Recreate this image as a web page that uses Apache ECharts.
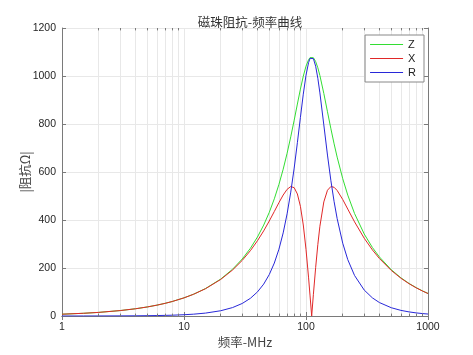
<!DOCTYPE html>
<html>
<head>
<meta charset="utf-8">
<script src="https://cdn.jsdelivr.net/npm/echarts@6/dist/echarts.min.js"></script>
<style>
  html, body { margin: 0; padding: 0; background: #fff; }
  #chart { width: 473px; height: 355px; }
</style>
</head>
<body>
<div id="chart"></div>
<script>
// frequency points (MHz)
var freq = [1, 1.5, 2, 3, 4, 5, 6, 7, 8, 10,
            12, 15, 20, 25, 30, 35, 40, 45, 50, 55,
            60, 65, 70, 75, 80, 85, 90, 95, 100, 105,
            108, 111.3, 115, 120, 125, 130, 140, 150, 160, 170,
            180, 200, 220, 250, 300, 350, 400, 500, 600, 700,
            800, 900, 1000];

var zMag = [7.5, 11.3, 15.1, 22.6, 30.1, 37.7, 45.2, 52.8, 60.4, 75.7,
            91.0, 114.3, 153.9, 194.8, 237.4, 282.0, 329.1, 378.9, 431.9, 488.3,
            548.2, 611.6, 678.0, 746.6, 815.8, 883.1, 945.4, 999.2, 1040.9, 1068.0,
            1076.7, 1080, 1076.2, 1060.2, 1034.4, 1002.0, 927.3, 851.0, 780.2, 717.2,
            662.1, 572.3, 503.6, 427.0, 341.7, 285.6, 245.9, 192.9, 159.1, 135.5,
            118.1, 104.7, 94.0];

var xReact = [7.5, 11.3, 15.0, 22.6, 30.1, 37.6, 45.2, 52.7, 60.3, 75.5,
              90.7, 113.6, 152.3, 191.6, 231.6, 272.2, 313.4, 354.8, 395.8, 435.5,
              472.3, 504.1, 527.7, 539.5, 534.6, 508.4, 457.0, 379.2, 277.6, 158.8,
              83.6, 0, 90.5, 202.3, 297.4, 373.9, 475.4, 524.0, 539.5, 536.2,
              523.1, 485.4, 445.5, 392.2, 324.1, 275.5, 239.4, 189.8, 157.3, 134.4,
              117.4, 104.2, 93.6];

var rRes = [0.05, 0.12, 0.21, 0.47, 0.84, 1.31, 1.89, 2.58, 3.38, 5.30,
            7.67, 12.09, 21.92, 35.13, 52.18, 73.65, 100.3, 132.9, 172.7, 220.7,
            278.2, 346.3, 425.7, 516.2, 616.2, 722.1, 827.6, 924.4, 1003.2, 1056.1,
            1073.5, 1080, 1072.4, 1040.7, 990.7, 929.6, 796.1, 670.6, 563.6, 476.3,
            405.9, 303.3, 234.8, 168.8, 108.1, 75.55, 55.98, 34.46, 23.43, 17.0,
            12.91, 10.14, 8.18];

// minor grid positions on the log axis
var minorFreq = [2, 3, 4, 5, 6, 7, 8, 9,
                 20, 30, 40, 50, 60, 70, 80, 90,
                 200, 300, 400, 500, 600, 700, 800, 900];

var names = ['Z', 'X', 'R'];
var colors = ['#33dd33', '#e02828', '#2828d8'];

var axisGray = '#7a7a7a';
var gridGray = '#e8e8e8';
var labelFont = 'Liberation Sans, Arial, sans-serif';
var cjkFont = 'Noto Sans CJK SC, sans-serif';

function pairs(xs, ys) {
    var out = [];
    for (var i = 0; i < xs.length; i++) out.push([xs[i], ys[i]]);
    return out;
}

var gridLines = [];
var minorTicks = [];
minorFreq.forEach(function (f) {
    gridLines.push([{coord: [f, 0]}, {coord: [f, 1200]}]);
    minorTicks.push([{coord: [f, 0]}, {coord: [f, 10]}]);
    minorTicks.push([{coord: [f, 1190]}, {coord: [f, 1200]}]);
});

function plain(v) { return String(v); }

var curves = [zMag, xReact, rRes].map(function (vals, i) {
    return {
        name: names[i], type: 'line', data: pairs(freq, vals),
        showSymbol: false, symbol: 'none',
        lineStyle: {color: colors[i], width: 1}, itemStyle: {color: colors[i]}
    };
});

var myChart = echarts.init(document.getElementById('chart'), null, {renderer: 'canvas'});
myChart.setOption({
    backgroundColor: '#fff',
    animation: false,
    title: {
        text: '磁珠阻抗-频率曲线',
        left: 245,
        top: 11,
        textAlign: 'center',
        textStyle: {fontFamily: cjkFont, fontSize: 12.5, fontWeight: 'normal', color: '#333'}
    },
    legend: {
        data: names.map(function (n, i) {
            return {name: n, icon: 'rect', itemStyle: {color: colors[i], borderWidth: 0}};
        }),
        orient: 'vertical',
        right: 49,
        top: 35,
        itemWidth: 33,
        itemHeight: 1,
        itemGap: 1,
        padding: [3, 8, 3, 5],
        backgroundColor: '#fff',
        borderColor: '#888',
        borderWidth: 1,
        borderRadius: 0,
        textStyle: {fontFamily: labelFont, fontSize: 11, color: '#222', lineHeight: 13}
    },
    grid: {left: 62, right: 45, top: 28, bottom: 39},
    xAxis: [{
        type: 'log',
        logBase: 10,
        min: 1,
        max: 1000,
        name: '频率-MHz',
        nameLocation: 'middle',
        nameGap: 20,
        nameMoveOverlap: false,
        nameTextStyle: {fontFamily: cjkFont, fontSize: 12.5, color: '#444'},
        axisLine: {lineStyle: {color: axisGray}},
        axisTick: {inside: true, length: 4, lineStyle: {color: axisGray}},
        axisLabel: {fontFamily: labelFont, fontSize: 10.5, color: '#262626', margin: 6, formatter: plain},
        splitLine: {show: true, lineStyle: {color: gridGray}}
    }, {
        type: 'log',
        logBase: 10,
        min: 1,
        max: 1000,
        position: 'top',
        axisLine: {lineStyle: {color: axisGray}},
        axisTick: {inside: true, length: 4, lineStyle: {color: axisGray}},
        axisLabel: {show: false},
        splitLine: {show: false}
    }],
    yAxis: [{
        type: 'value',
        min: 0,
        max: 1200,
        interval: 200,
        name: '|阻抗Ω|',
        nameLocation: 'middle',
        nameGap: 30,
        nameMoveOverlap: false,
        nameTextStyle: {fontFamily: cjkFont, fontSize: 12.5, color: '#444'},
        axisLine: {show: true, lineStyle: {color: axisGray}},
        axisTick: {show: true, inside: true, length: 4, lineStyle: {color: axisGray}},
        axisLabel: {fontFamily: labelFont, fontSize: 10.5, color: '#262626', margin: 6, formatter: plain},
        splitLine: {show: true, lineStyle: {color: gridGray}}
    }, {
        type: 'value',
        min: 0,
        max: 1200,
        interval: 200,
        position: 'right',
        axisLine: {show: true, lineStyle: {color: axisGray}},
        axisTick: {show: true, inside: true, length: 4, lineStyle: {color: axisGray}},
        axisLabel: {show: false},
        splitLine: {show: false}
    }],
    series: [
        {
            name: 'grid',
            type: 'line',
            data: [],
            silent: true,
            markLine: {
                silent: true,
                symbol: 'none',
                z: 1,
                label: {show: false},
                lineStyle: {color: gridGray, width: 1, type: 'solid'},
                data: gridLines
            }
        },
        {
            name: 'ticks',
            type: 'line',
            data: [],
            silent: true,
            markLine: {
                silent: true,
                symbol: 'none',
                label: {show: false},
                lineStyle: {color: axisGray, width: 1, type: 'solid'},
                data: minorTicks
            }
        }
    ].concat(curves)
});
</script>
</body>
</html>
